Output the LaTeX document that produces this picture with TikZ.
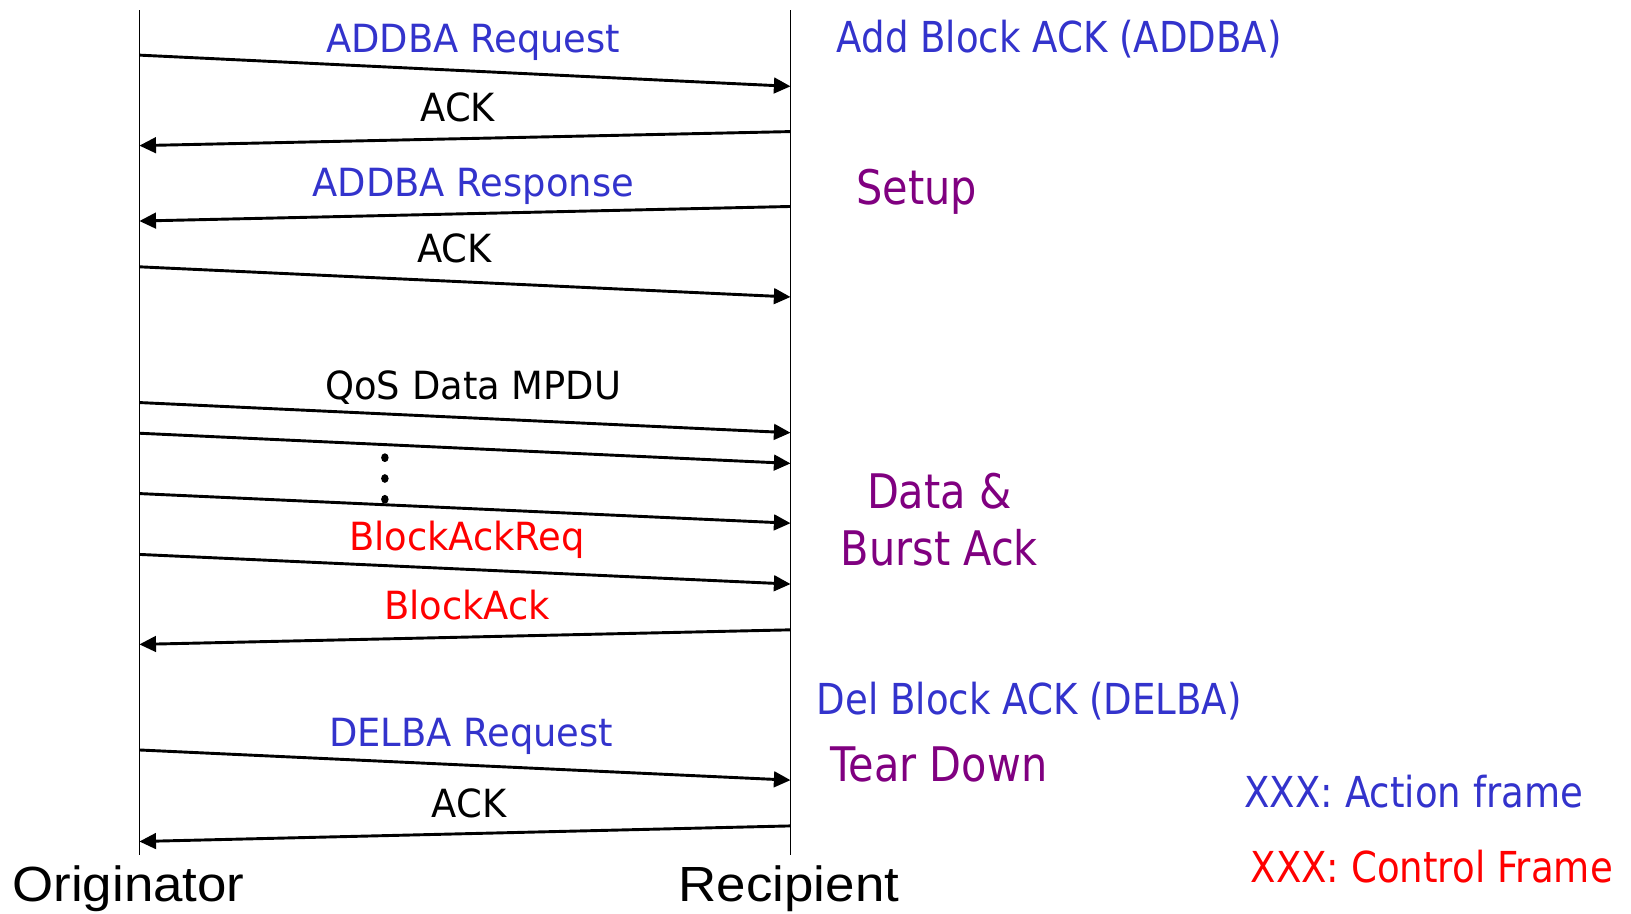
\documentclass[tikz,border=0pt]{standalone}
\usepackage{fontspec}
\setmainfont{DejaVu Sans}
\newfontfamily\msgfont[FakeStretch=0.95]{DejaVu Sans}
\newfontfamily\notefont[FakeStretch=0.87]{DejaVu Sans}
\newfontfamily\rolefont[FakeStretch=1.07]{Liberation Sans}
\usetikzlibrary{arrows.meta,positioning}
\definecolor{actblue}{RGB}{51,51,204}
\definecolor{phasepurple}{RGB}{128,0,128}
\definecolor{ctrlred}{RGB}{255,0,0}

\tikzset{
  lifeline/.style={line width=0.75pt},
  msg/.style={line width=1.4pt,-{Triangle[length=8pt,width=7.5pt]}},
  msglabel/.style={inner sep=0pt,anchor=base,font=\msgfont\fontsize{18.65}{22}\selectfont},
  note/.style={inner sep=0pt,anchor=base west,text=actblue,font=\notefont\fontsize{20.5}{24}\selectfont},
  phase/.style={inner sep=0pt,anchor=base,text=phasepurple,font=\notefont\fontsize{22.9}{27}\selectfont},
  role/.style={inner sep=0pt,anchor=base,font=\rolefont\fontsize{23.75}{28}\selectfont}
}

\begin{document}
\begin{tikzpicture}[x=0.5pt,y=-0.5pt]
\useasboundingbox (0,0) rectangle (1568,878);

% lifelines
\coordinate (orgtop) at (134,10);
\coordinate (orgbot) at (134,822);
\coordinate (rectop) at (760,10);
\coordinate (recbot) at (760,822);
\draw[lifeline] (orgtop) -- (orgbot);
\draw[lifeline] (rectop) -- (recbot);

% message end points
\coordinate (o1) at (134,53);   \coordinate (r1) at (760,83);
\coordinate (o2) at (134,140);  \coordinate (r2) at (760,126.5);
\coordinate (o3) at (134,212.5);\coordinate (r3) at (760,198.5);
\coordinate (o4) at (134,256.5);\coordinate (r4) at (760,285.5);
\coordinate (o5) at (134,387);  \coordinate (r5) at (760,416);
\coordinate (o6) at (134,416.5);\coordinate (r6) at (760,445.5);
\coordinate (o7) at (134,474.5);\coordinate (r7) at (760,503);
\coordinate (o8) at (134,533);  \coordinate (r8) at (760,561.5);
\coordinate (o9) at (134,619.5);\coordinate (r9) at (760,605.5);
\coordinate (o10) at (134,721); \coordinate (r10) at (760,750);
\coordinate (o11) at (134,809); \coordinate (r11) at (760,794);

% setup
\draw[msg] (o1) -- (r1);
\draw[msg] (r2) -- (o2);
\draw[msg] (r3) -- (o3);
\draw[msg] (o4) -- (r4);
\node[msglabel,text=actblue] (addreq) at (455,50) {ADDBA Request};
\node[msglabel] (ack1) at (440,117) {ACK};
\node[msglabel,text=actblue] (addresp) at (455,189) {ADDBA Response};
\node[msglabel] (ack2) at (437,252) {ACK};

% data and burst ack
\draw[msg] (o5) -- (r5);
\draw[msg] (o6) -- (r6);
\draw[msg] (o7) -- (r7);
\draw[msg] (o8) -- (r8);
\draw[msg] (r9) -- (o9);
\node[msglabel] (qosdata) at (455,384) {QoS Data MPDU};
\fill (370,440) ellipse (3.6 and 4.2);
\fill (370,460) ellipse (3.6 and 4.2);
\fill (370,480) ellipse (3.6 and 4.2);
\node[msglabel,text=ctrlred] (bar) at (449,529) {BlockAckReq};
\node[msglabel,text=ctrlred] (ba) at (449,596) {BlockAck};

% tear down
\draw[msg] (o10) -- (r10);
\draw[msg] (r11) -- (o11);
\node[msglabel,text=actblue] (delreq) at (453,718) {DELBA Request};
\node[msglabel] (ack3) at (451,786) {ACK};

% stations
\node[role] (orig) at (123.5,867) {Originator};
\node[role] (recip) at (758.5,867) {Recipient};

% phases
\node[note] (addba) at (804,50.5) {Add Block ACK (ADDBA)};
\node[phase,anchor=base west] (setup) at (823,197) {Setup};
\node[phase] (data) at (903,489) {Data \&};
\node[phase] (burst) at (903,544) {Burst Ack};
\node[note] (delba) at (785,687) {Del Block ACK (DELBA)};
\node[phase,anchor=base west] (teardown) at (798,751) {Tear Down};

% legend
\node[note] (actleg) at (1196,776) {XXX: Action frame};
\node[note,text=ctrlred] (ctrlleg) at (1202,848) {XXX: Control Frame};
\end{tikzpicture}
\end{document}
